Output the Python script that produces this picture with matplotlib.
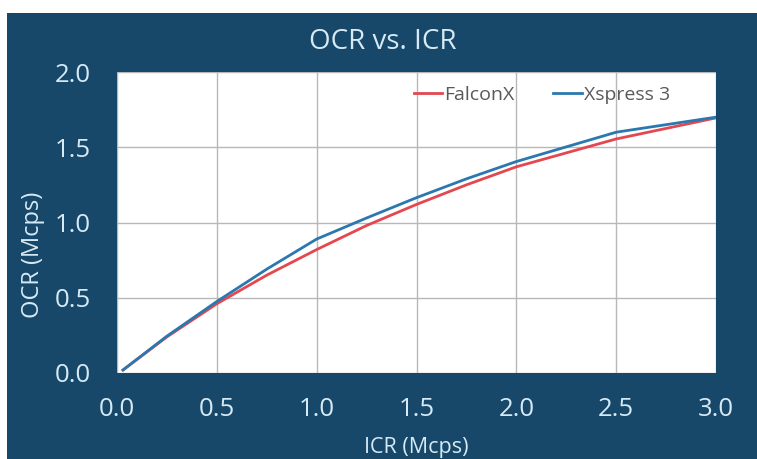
import matplotlib
matplotlib.use("Agg")
import matplotlib.pyplot as plt
from matplotlib.patches import Rectangle

# ICR (Mcps) -> OCR (Mcps)
icr = [0.03, 0.25, 0.5, 0.75, 1.0, 1.25, 1.5, 1.75, 2.0, 2.5, 3.0]
ocr_falconx = [0.02, 0.24, 0.46, 0.65, 0.82, 0.98, 1.12, 1.25, 1.37, 1.555, 1.695]
ocr_xspress3 = [0.02, 0.245, 0.475, 0.69, 0.89, 1.03, 1.165, 1.29, 1.405, 1.60, 1.70]
xticks = [0.0, 0.5, 1.0, 1.5, 2.0, 2.5, 3.0]
yticks = [0.0, 0.5, 1.0, 1.5, 2.0]

C_BG = "#17486a"
C_TXT = "#d6eaf5"
C_RED = "#e4474f"
C_BLUE = "#2a78ae"
FONT = "Open Sans"

W, H = 757, 459
fig = plt.figure(figsize=(W / 100, H / 100), dpi=100, facecolor="white")
fig.patches.append(Rectangle((7 / W, 0), 1 - 7 / W, 1 - 13 / H, transform=fig.transFigure,
                             facecolor=C_BG, edgecolor="none", zorder=-10))

ax = fig.add_axes([117 / W, 1 - 373 / H, (716 - 117) / W, (373 - 72) / H])
ax.set_zorder(2)
ax.set_facecolor("white")
ax.plot(icr, ocr_falconx, color=C_RED, linewidth=2.0, label="FalconX", zorder=3)
ax.plot(icr, ocr_xspress3, color=C_BLUE, linewidth=2.0, label="Xspress 3", zorder=3)

ax.set_xlim(0, 3.0)
ax.set_ylim(0, 2.0)
ax.set_xticks(xticks)
ax.set_yticks(yticks)
ax.set_xticklabels([f"{v:.1f}" for v in xticks], family=FONT, fontsize=18.5, color=C_TXT)
ax.set_yticklabels([f"{v:.1f}" for v in yticks], family=FONT, fontsize=18.5, color=C_TXT)
ax.tick_params(axis="both", length=0)
ax.tick_params(axis="x", pad=17)
ax.tick_params(axis="y", pad=19)
ax.grid(True, color="#b8b8b8", linewidth=1.0)
ax.set_axisbelow(True)
for s in ax.spines.values():
    s.set_visible(False)

ax.set_xlabel("ICR (Mcps)", family=FONT, fontsize=15.5, color=C_TXT)
ax.set_ylabel("OCR (Mcps)", family=FONT, fontsize=17, color=C_TXT)
ax.xaxis.set_label_coords((416 - 117) / 599, (373 - 447) / 301)
ax.yaxis.set_label_coords((33 - 117) / 599, (373 - 255) / 301)
ax.xaxis.label.set_va("center")
ax.yaxis.label.set_va("center")
fig.text(383 / W, 1 - 42 / H, "OCR vs. ICR", family=FONT, fontsize=20, color=C_TXT,
         ha="center", va="center")

leg = ax.legend(loc="center right", bbox_to_anchor=((670 - 117) / 599, (373 - 95) / 301),
                ncol=2, frameon=False, borderpad=0, borderaxespad=0,
                prop={"family": FONT, "size": 14}, handlelength=1.45, handletextpad=0.12,
                columnspacing=2.0)
for t in leg.get_texts():
    t.set_color("#595959")

fig.savefig("out.png", dpi=100, facecolor="white")
